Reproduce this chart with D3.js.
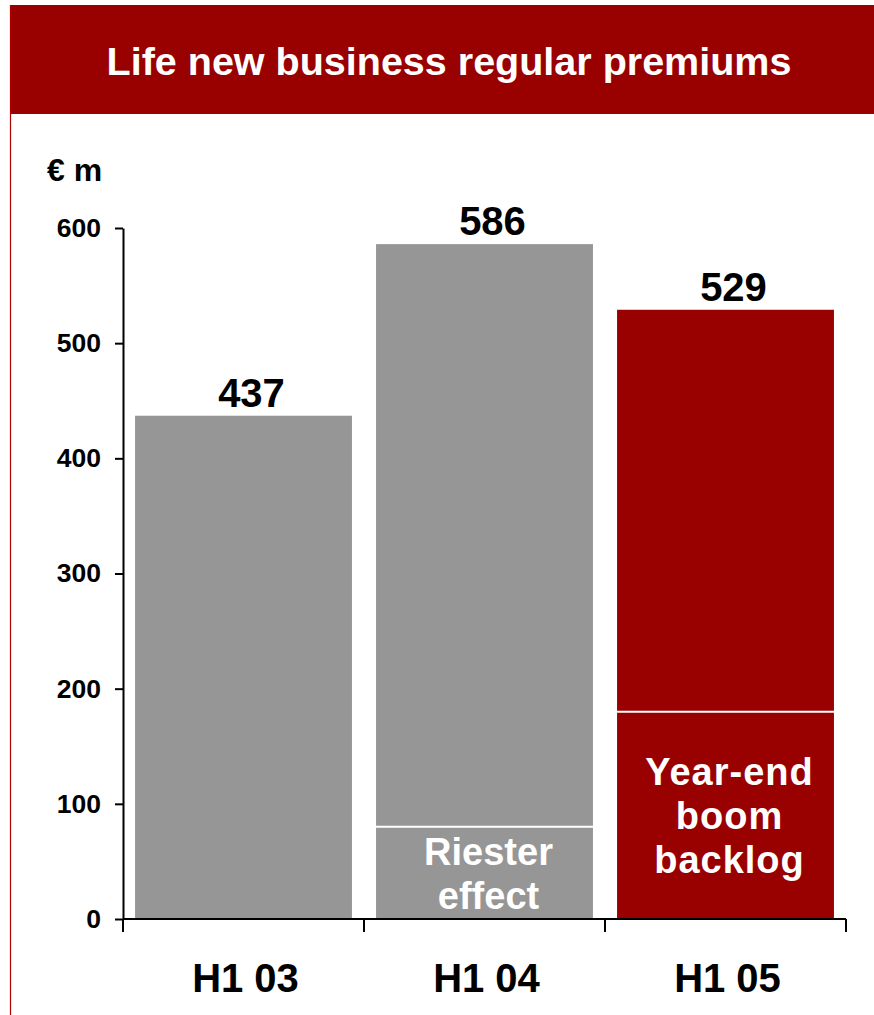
<!DOCTYPE html>
<html>
<head>
<meta charset="utf-8">
<script src="https://cdn.jsdelivr.net/npm/d3@7"></script>
<style>
  html, body { margin: 0; padding: 0; background: #fff; }
  svg { display: block; font-family: "Liberation Sans", Arial, Helvetica, sans-serif; }
</style>
</head>
<body>
<svg id="chart" width="874" height="1015"></svg>
<script>
// Half-year life new business regular premiums, € m
const categories = ["H1 03", "H1 04", "H1 05"];
const totals = [437, 586, 529];
// lower highlighted segment of each bar (0 = no split)
const baseSegment = [0, 80, 180];
const segmentLabels = [[], ["Riester", "effect"], ["Year-end", "boom", "backlog"]];
const barColors = ["#969696", "#969696", "#990000"];
const yTicks = [0, 100, 200, 300, 400, 500, 600];
const title = "Life new business regular premiums";
const unitLabel = "€ m";

const RED = "#990000";
const svg = d3.select("#chart");

// header band and left frame line
svg.append("rect").attr("x", 10).attr("y", 5).attr("width", 864).attr("height", 109).attr("fill", RED);
svg.append("line").attr("x1", 10.5).attr("x2", 10.5).attr("y1", 5).attr("y2", 1015)
  .attr("stroke", "#b00000").attr("stroke-width", 1.2);
svg.append("text").attr("x", 449).attr("y", 75).attr("text-anchor", "middle")
  .attr("fill", "#fff").attr("font-size", 39.5).attr("font-weight", "bold").text(title);

// scales
const x = d3.scaleBand().domain(categories).range([123, 846]).paddingInner(0.1).paddingOuter(0.05);
const y = d3.scaleLinear().domain([0, 600]).range([919, 228]);

svg.append("text").attr("x", 47).attr("y", 181).attr("font-size", 32).attr("font-weight", "bold")
  .attr("fill", "#000").text(unitLabel);

// bars
const data = categories.map((c, i) => ({ c, total: totals[i], base: baseSegment[i], color: barColors[i], labels: segmentLabels[i] }));
const g = svg.append("g");
g.selectAll("rect.bar").data(data).join("rect").attr("class", "bar")
  .attr("x", d => x(d.c)).attr("width", x.bandwidth())
  .attr("y", d => y(d.total)).attr("height", d => y(0) - y(d.total))
  .attr("fill", d => d.color);

// white separator between the two stacked segments
g.selectAll("line.sep").data(data.filter(d => d.base > 0)).join("line").attr("class", "sep")
  .attr("x1", d => x(d.c)).attr("x2", d => x(d.c) + x.bandwidth())
  .attr("y1", d => y(d.base)).attr("y2", d => y(d.base))
  .attr("stroke", "#fff").attr("stroke-width", 2);

// segment captions
data.forEach(d => {
  const n = d.labels.length;
  if (!n) return;
  const top = y(d.base), bottom = y(0);
  const lh = 44;
  const mid = (top + bottom) / 2;
  const firstBase = mid - (n - 1) * lh / 2 + 14;
  d.labels.forEach((t, k) => {
    g.append("text").attr("x", x(d.c) + x.bandwidth() / 2 + 4).attr("y", firstBase + k * lh)
      .attr("text-anchor", "middle").attr("fill", "#fff").attr("font-size", 38).attr("font-weight", "bold")
      .attr("letter-spacing", n > 2 ? 1 : 0).text(t);
  });
});

// value labels
g.selectAll("text.val").data(data).join("text").attr("class", "val")
  .attr("x", d => x(d.c) + x.bandwidth() / 2 + 8).attr("y", d => y(d.total) - 9)
  .attr("text-anchor", "middle").attr("font-size", 40).attr("font-weight", "bold").attr("fill", "#000")
  .text(d => d.total);

// y axis
const yAxis = svg.append("g").attr("transform", "translate(123,0)")
  .call(d3.axisLeft(y).tickValues(yTicks).tickSize(8).tickSizeOuter(0).tickPadding(14));
yAxis.select(".domain").attr("stroke", "#000").attr("stroke-width", 2);
yAxis.selectAll(".tick line").attr("stroke", "#000").attr("stroke-width", 2);
yAxis.selectAll(".tick text").attr("font-size", 26.5).attr("font-weight", "bold").attr("fill", "#000")
  .attr("font-family", "Liberation Sans, Arial, sans-serif");

// x axis: baseline with ticks at category boundaries
const [x0, x1] = x.range();
const bounds = d3.range(categories.length + 1).map(i => x0 + i * (x1 - x0) / categories.length);
svg.append("line").attr("x1", x0).attr("x2", x1).attr("y1", y(0)).attr("y2", y(0))
  .attr("stroke", "#000").attr("stroke-width", 2);
svg.selectAll("line.xt").data(bounds).join("line").attr("class", "xt")
  .attr("x1", d => d).attr("x2", d => d).attr("y1", y(0)).attr("y2", y(0) + 13)
  .attr("stroke", "#000").attr("stroke-width", 2);
svg.selectAll("text.cat").data(categories).join("text").attr("class", "cat")
  .attr("x", d => x(d) + x.bandwidth() / 2 + 2).attr("y", 992)
  .attr("text-anchor", "middle").attr("font-size", 40).attr("font-weight", "bold").attr("fill", "#000")
  .text(d => d);
</script>
</body>
</html>
